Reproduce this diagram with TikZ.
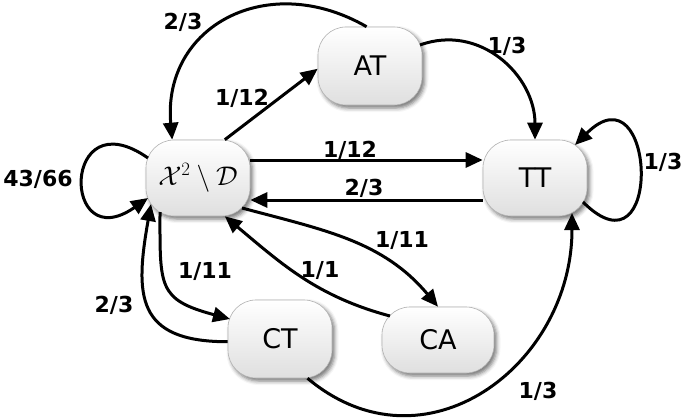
\RequirePackage{fix-cm}
\documentclass[tikz,border=0pt]{standalone}
\usepackage{fontspec}
\setmainfont{DejaVu Sans}
\usetikzlibrary{arrows.meta,calc,shadows.blur}

\begin{document}
\begin{tikzpicture}[x=1pt,y=1pt,
        state/.style={rectangle, rounded corners=28pt, draw=gray!60, line width=0.6pt,
            top color=white, bottom color=gray!25,
            blur shadow={shadow xshift=2.5pt, shadow yshift=-3pt, shadow blur radius=4pt, shadow opacity=55},
            minimum width=104pt, minimum height=76pt, inner sep=0pt,
            font=\fontsize{27}{30}\selectfont},
        trans/.style={line width=3pt, -{Triangle[length=17pt,width=15pt]}},
        prob/.style={font=\fontsize{22}{24}\selectfont\bfseries}]
        \useasboundingbox (0,0) rectangle (685,-420);
        % states
        \node[state] (X) at (198,-178) {$\mathcal{X}^2\setminus\mathcal{D}$};
        \node[state, minimum height=78pt] (AT) at (370,-66) {AT};
        \node[state] (TT) at (535,-178) {TT};
        \node[state, minimum height=78pt] (CT) at (280,-339) {CT};
        \node[state, minimum width=112pt, minimum height=66pt] (CA) at (438,-340) {CA};
        % transitions
        \draw[trans] ($(X)+(-50,20)$) to[out=145,in=215,looseness=6.8] ($(X)+(-50,-20)$);
        \draw[trans] (AT.95) to[out=150,in=95,looseness=1.3] (X.124);
        \draw[trans] (X.55) -- (AT.183);
        \draw[trans] ($(AT)+(50,21)$) to[out=20,in=90,looseness=1.1] (TT.north);
        \draw[trans] ([yshift=18pt]X.east) -- ([yshift=18pt]TT.west);
        \draw[trans] ([yshift=-22pt]TT.west) -- ([yshift=-22pt]X.east);
        \draw[trans] ($(TT)+(48,-24)$) to[out=-45,in=45,looseness=5.1] ($(TT)+(40,33)$);
        \draw[trans] ($(X)+(-38,-34)$) to[out=-90,in=165,looseness=1.5] ($(CT)+(-50,20)$);
        \draw[trans] (CT.183) to[out=180,in=260,looseness=1.5] ($(X)+(-47,-26)$);
        \draw[trans] ($(CA)+(-48,24)$) to[out=165,in=-40,looseness=1] (X.-55);
        \draw[trans] ($(X)+(44,-30)$) to[out=-15,in=130,looseness=1] (CA.north);
        \draw[trans] (CT.-55) to[out=-40,in=-90,looseness=1.25] ($(TT)+(37,-35)$);
        % probabilities
        \node[prob] (pXX) at (38,-179) {43/66};
        \node[prob] (pATX) at (183,-22) {2/3};
        \node[prob] (pXAT) at (242,-98) {1/12};
        \node[prob] (pATTT) at (507,-46) {1/3};
        \node[prob] (pXTT) at (350,-150) {1/12};
        \node[prob] (pTTX) at (364,-188) {2/3};
        \node[prob] (pTTTT) at (663,-162) {1/3};
        \node[prob] (pXCT) at (205,-271) {1/11};
        \node[prob] (pCTX) at (114,-305) {2/3};
        \node[prob] (pCAX) at (320,-270) {1/1};
        \node[prob] (pXCA) at (402,-240) {1/11};
        \node[prob] (pCTTT) at (538,-391) {1/3};
    \end{tikzpicture}
\end{document}
